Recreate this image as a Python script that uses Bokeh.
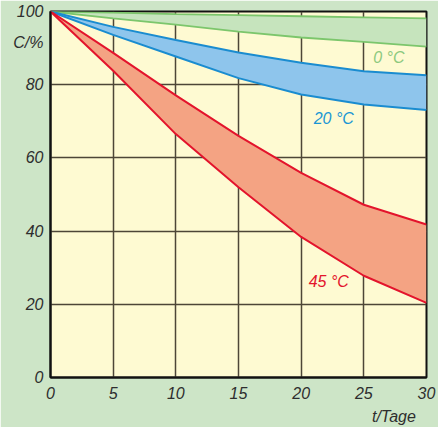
from bokeh.plotting import figure
from bokeh.models import Range1d, FixedTicker, Label, LinearAxis
from bokeh.embed import file_html
from bokeh.resources import INLINE

days = [0, 5, 10, 15, 20, 25, 30]
c0_upper = [100, 99.7, 99.3, 99.0, 98.7, 98.4, 98.1]
c0_lower = [100, 98.1, 96.4, 94.5, 92.9, 91.7, 90.4]
c20_upper = [100, 95.8, 92.2, 88.8, 86.0, 83.7, 82.6]
c20_lower = [100, 93.6, 87.7, 81.8, 77.3, 74.6, 73.1]
c45_upper = [100, 88.7, 77.1, 66.0, 55.9, 47.2, 41.8]
c45_lower = [100, 83.8, 66.5, 52.0, 38.4, 27.8, 20.4]
x_ticks = [0, 5, 10, 15, 20, 25, 30]
y_ticks = [0, 20, 40, 60, 80, 100]
series_labels = ["0 °C", "20 °C", "45 °C"]
x_title = "t/Tage"
y_title = "C/%"
y_title_pos = 91.5
x_title_pos = 27.4

FONT = "Liberation Sans"
GREEN_BG = "#cde5c7"
PLOT_BG = "#fefad2"
TXT = "#2e2e2e"

p = figure(width=438, height=427, output_backend="svg", toolbar_location=None,
           x_range=Range1d(0, 30), y_range=Range1d(0, 100),
           min_border_left=50, min_border_right=12, min_border_top=11, min_border_bottom=49)
p.background_fill_color = PLOT_BG
p.border_fill_color = GREEN_BG
p.outline_line_color = "#111111"
p.outline_line_width = 2

def style_axis(ax):
    ax.major_tick_line_color = None
    ax.minor_tick_line_color = None
    ax.major_label_text_font = FONT
    ax.major_label_text_font_style = "italic"
    ax.major_label_text_font_size = "16px"
    ax.major_label_text_color = TXT

for ax in (p.xaxis[0], p.yaxis[0]):
    style_axis(ax)
    ax.axis_line_color = "#111111"
    ax.axis_line_width = 2

p.xaxis.ticker = FixedTicker(ticks=x_ticks)
p.yaxis.ticker = FixedTicker(ticks=y_ticks + [y_title_pos])
p.yaxis.major_label_overrides = {y_title_pos: y_title}
p.xaxis.major_label_standoff = 3
p.yaxis.major_label_standoff = 1

# second bottom axis carrying the x title
xt = LinearAxis(ticker=FixedTicker(ticks=[x_title_pos]),
                major_label_overrides={x_title_pos: x_title})
style_axis(xt)
xt.axis_line_color = None
xt.major_label_standoff = 0
p.add_layout(xt, "below")

p.xgrid.ticker = FixedTicker(ticks=x_ticks)
p.ygrid.ticker = FixedTicker(ticks=y_ticks)
for g in (p.xgrid[0], p.ygrid[0]):
    g.grid_line_color = "#4d4637"
    g.grid_line_width = 1.5
    g.grid_line_alpha = 1.0

# bands
p.varea(x=days, y1=c0_lower, y2=c0_upper, fill_color="#c6e4bd")
p.line(days, c0_upper, line_color="#7cc66c", line_width=1.8)
p.line(days, c0_lower, line_color="#7cc66c", line_width=1.8)

p.varea(x=days, y1=c20_lower, y2=c20_upper, fill_color="#8ec5ec")
p.line(days, c20_upper, line_color="#1a8cd0", line_width=2)
p.line(days, c20_lower, line_color="#1a8cd0", line_width=2)

p.varea(x=days, y1=c45_lower, y2=c45_upper, fill_color="#f4a383")
p.line(days, c45_upper, line_color="#e3142c", line_width=2)
p.line(days, c45_lower, line_color="#e3142c", line_width=2)

def lab(x, y, text, color):
    p.add_layout(Label(x=x, y=y, text=text, text_color=color, text_font=FONT,
                       text_font_style="italic", text_font_size="16px",
                       text_align="center", text_baseline="middle"))

lab(27.0, 87.3, series_labels[0], "#8cc97e")
lab(22.6, 70.8, series_labels[1], "#1a96d4")
lab(22.2, 26.2, series_labels[2], "#e3142c")

open("out.html", "w").write(file_html(p, INLINE))
